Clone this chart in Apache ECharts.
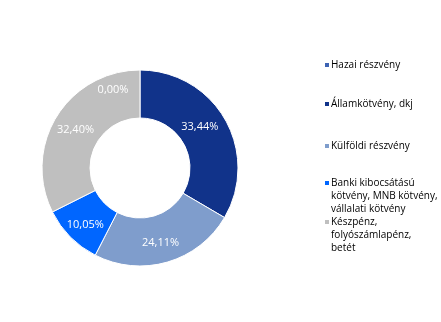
<!DOCTYPE html>
<html>
<head>
<meta charset="utf-8">
<script src="https://cdn.jsdelivr.net/npm/echarts@6/dist/echarts.min.js"></script>
<style>html,body{margin:0;padding:0;background:#fff}#c{width:441px;height:322px}</style>
</head>
<body>
<div id="c"></div>
<script>
var categories = ['Hazai részvény', 'Államkötvény, dkj', 'Külföldi részvény', 'Banki kibocsátású kötvény, MNB kötvény, vállalati kötvény', 'Készpénz, folyószámlapénz, betét'];
var legendLines = [
  ['Hazai részvény'],
  ['Államkötvény, dkj'],
  ['Külföldi részvény'],
  ['Banki kibocsátású', 'kötvény, MNB kötvény,', 'vállalati kötvény'],
  ['Készpénz,', 'folyószámlapénz,', 'betét']
];
var values = [0.00, 33.44, 24.11, 10.05, 32.40];
var colors = ['#3d63b3', '#11338a', '#7f9dcc', '#0066ff', '#bfbfbf'];

var legendCenters = [65, 104, 146, 183, 222];
var labelShift = [[-27, -1], [-7, -3], [-1, 1], [0, 3], [1, 2]];
var lineH = 13;
var chart = echarts.init(document.getElementById('c'));

var legends = categories.map(function (name, i) {
  var lines = legendLines[i];
  var n = lines.length;
  var pad = [];
  for (var k = 1; k < n; k++) pad.push('');
  var text = pad.concat(lines).join('\n');
  var total = 2 * n - 1;
  return {
    data: [name],
    orient: 'vertical',
    left: 323,
    top: legendCenters[i] - total * lineH / 2,
    padding: 0,
    icon: 'rect',
    itemWidth: 6,
    itemHeight: 6,
    itemGap: 0,
    selectedMode: false,
    formatter: function () { return text; },
    textStyle: { fontFamily: 'Open Sans', fontSize: 10, color: '#000', lineHeight: lineH, padding: [0, 0, 0, -4] }
  };
});

chart.setOption({
  animation: false,
  color: colors,
  legend: legends,
  series: [{
    type: 'pie',
    center: [140, 168],
    radius: [50, 98],
    startAngle: 90,
    clockwise: true,
    avoidLabelOverlap: false,
    minShowLabelAngle: 0,
    itemStyle: { borderColor: '#fff', borderWidth: 1 },
    label: {
      show: true,
      position: 'inside',
      color: '#fff',
      fontFamily: 'Open Sans',
      fontSize: 11,
      formatter: function (p) { return p.value.toFixed(2).replace('.', ',') + '%'; }
    },
    labelLine: { show: false },
    labelLayout: function (p) {
      var s = labelShift[p.dataIndex];
      return { dx: s[0], dy: s[1] };
    },
    emphasis: { disabled: true },
    data: categories.map(function (c, i) { return { name: c, value: values[i] }; })
  }]
});
</script>
</body>
</html>
